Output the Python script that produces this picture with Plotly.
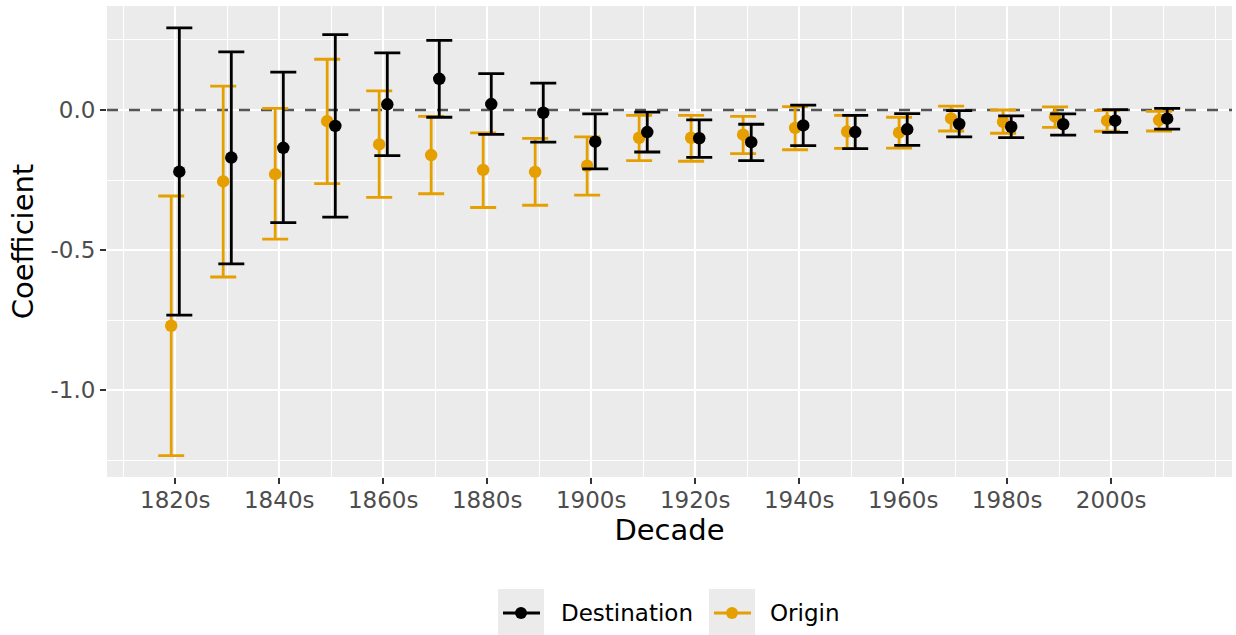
import plotly.graph_objects as go

# Decade coefficients with 95% interval bounds
decades = [1820, 1830, 1840, 1850, 1860, 1870, 1880, 1890, 1900, 1910,
           1920, 1930, 1940, 1950, 1960, 1970, 1980, 1990, 2000, 2010]

origin_est = [-0.770, -0.255, -0.229, -0.040, -0.123, -0.161, -0.214, -0.221, -0.199, -0.099,
              -0.099, -0.088, -0.064, -0.077, -0.081, -0.030, -0.042, -0.024, -0.038, -0.036]
origin_lo = [-1.233, -0.596, -0.461, -0.263, -0.312, -0.299, -0.348, -0.340, -0.304, -0.181,
             -0.183, -0.156, -0.142, -0.137, -0.136, -0.075, -0.083, -0.062, -0.076, -0.075]
origin_hi = [-0.307, 0.085, 0.006, 0.181, 0.068, -0.023, -0.082, -0.101, -0.096, -0.019,
             -0.019, -0.023, 0.012, -0.019, -0.026, 0.014, 0.000, 0.011, -0.002, -0.005]

dest_est = [-0.220, -0.170, -0.135, -0.057, 0.020, 0.111, 0.021, -0.010, -0.113, -0.079,
            -0.101, -0.115, -0.055, -0.079, -0.069, -0.050, -0.060, -0.051, -0.038, -0.031]
dest_lo = [-0.732, -0.549, -0.402, -0.382, -0.163, -0.026, -0.087, -0.115, -0.210, -0.150,
           -0.169, -0.181, -0.127, -0.138, -0.126, -0.096, -0.099, -0.090, -0.080, -0.068]
dest_hi = [0.293, 0.207, 0.135, 0.269, 0.204, 0.248, 0.130, 0.096, -0.014, -0.008,
           -0.035, -0.051, 0.017, -0.019, -0.013, -0.002, -0.021, -0.014, 0.001, 0.006]

tick_vals = [1820, 1840, 1860, 1880, 1900, 1920, 1940, 1960, 1980, 2000]
tick_text = ["1820s", "1840s", "1860s", "1880s", "1900s", "1920s", "1940s", "1960s", "1980s", "2000s"]
minor_x = list(range(1810, 2021, 10))
y_ticks = [0.0, -0.5, -1.0]
y_text = ["0.0", "-0.5", "-1.0"]
minor_y = [0.25, -0.25, -0.75, -1.25]

ORANGE = "#E69F00"
BLACK = "#000000"
FONT = "DejaVu Sans"
DODGE = 0.78            # horizontal dodge in years
X_RANGE = [1806.87, 2023.25]
Y_RANGE = [-1.3096, 0.371]

W, H = 1236, 635
ML, MR, MT, MB = 107, 4, 6, 158
PW, PH = W - ML - MR, H - MT - MB


def px_x(px):
    return (px - ML) / PW


def px_y(py):
    return (H - MB - py) / PH


fig = go.Figure()

# reference line at zero
fig.add_trace(go.Scatter(
    x=X_RANGE, y=[0, 0], mode="lines",
    line=dict(color="#555555", width=2.6, dash="11px,11px"),
    hoverinfo="skip", showlegend=False,
))


def series(xs, est, lo, hi, color, name, shift):
    return go.Scatter(
        x=[d + shift for d in xs], y=est, mode="markers", name=name,
        marker=dict(color=color, size=12.5),
        error_y=dict(type="data", symmetric=False,
                     array=[h - e for h, e in zip(hi, est)],
                     arrayminus=[e - l for e, l in zip(est, lo)],
                     color=color, thickness=2.8, width=13),
        showlegend=False,
    )


fig.add_trace(series(decades, origin_est, origin_lo, origin_hi, ORANGE, "Origin", -DODGE))
fig.add_trace(series(decades, dest_est, dest_lo, dest_hi, BLACK, "Destination", DODGE))

# legend: grey key boxes with line + point glyphs and labels
shapes = []
annotations = []
legend_items = [("Destination", BLACK, 498, 559), ("Origin", ORANGE, 709, 768)]
key_w, key_top, key_bot, key_mid = 46, 589, 635, 613
for label, col, bx, tx in legend_items:
    shapes.append(dict(type="rect", xref="paper", yref="paper",
                       x0=px_x(bx), x1=px_x(bx + key_w), y0=px_y(key_bot), y1=px_y(key_top),
                       fillcolor="#EBEBEB", line=dict(width=0), layer="above"))
    shapes.append(dict(type="line", xref="paper", yref="paper",
                       x0=px_x(bx + 5), x1=px_x(bx + 42), y0=px_y(key_mid), y1=px_y(key_mid),
                       line=dict(color=col, width=2.8), layer="above"))
    cx = bx + key_w / 2
    shapes.append(dict(type="circle", xref="paper", yref="paper",
                       xsizemode="pixel", ysizemode="pixel",
                       xanchor=px_x(cx), yanchor=px_y(key_mid),
                       x0=-6, x1=6, y0=-6, y1=6,
                       fillcolor=col, line=dict(width=0), layer="above"))
    annotations.append(dict(text=label, xref="paper", yref="paper",
                            x=px_x(tx), y=px_y(key_mid), xanchor="left", yanchor="middle",
                            showarrow=False, font=dict(family=FONT, size=23, color="black")))

axis_common = dict(
    showline=False, zeroline=False, showgrid=True,
    gridcolor="white", gridwidth=2,
    ticks="outside", ticklen=6, tickwidth=1.5, tickcolor="#333333",
    tickfont=dict(family=FONT, size=23, color="#4D4D4D"),
)

fig.update_layout(
    width=W, height=H,
    margin=dict(l=ML, r=MR, t=MT, b=MB),
    paper_bgcolor="white", plot_bgcolor="#EBEBEB",
    font=dict(family=FONT),
    xaxis=dict(
        range=X_RANGE, tickmode="array", tickvals=tick_vals, ticktext=tick_text,
        minor=dict(tickvals=minor_x, showgrid=True, gridcolor="white", gridwidth=1, ticks=""),
        ticklabelstandoff=-4,
        title=dict(text="Decade", font=dict(family=FONT, size=29, color="black"), standoff=6),
        **axis_common,
    ),
    yaxis=dict(
        range=Y_RANGE, tickmode="array", tickvals=y_ticks, ticktext=y_text,
        minor=dict(tickvals=minor_y, showgrid=True, gridcolor="white", gridwidth=1, ticks=""),
        title=dict(text="Coefficient", font=dict(family=FONT, size=29, color="black"), standoff=8),
        **axis_common,
    ),
    shapes=shapes,
    annotations=annotations,
    showlegend=False,
)

fig.write_html("out.html")
